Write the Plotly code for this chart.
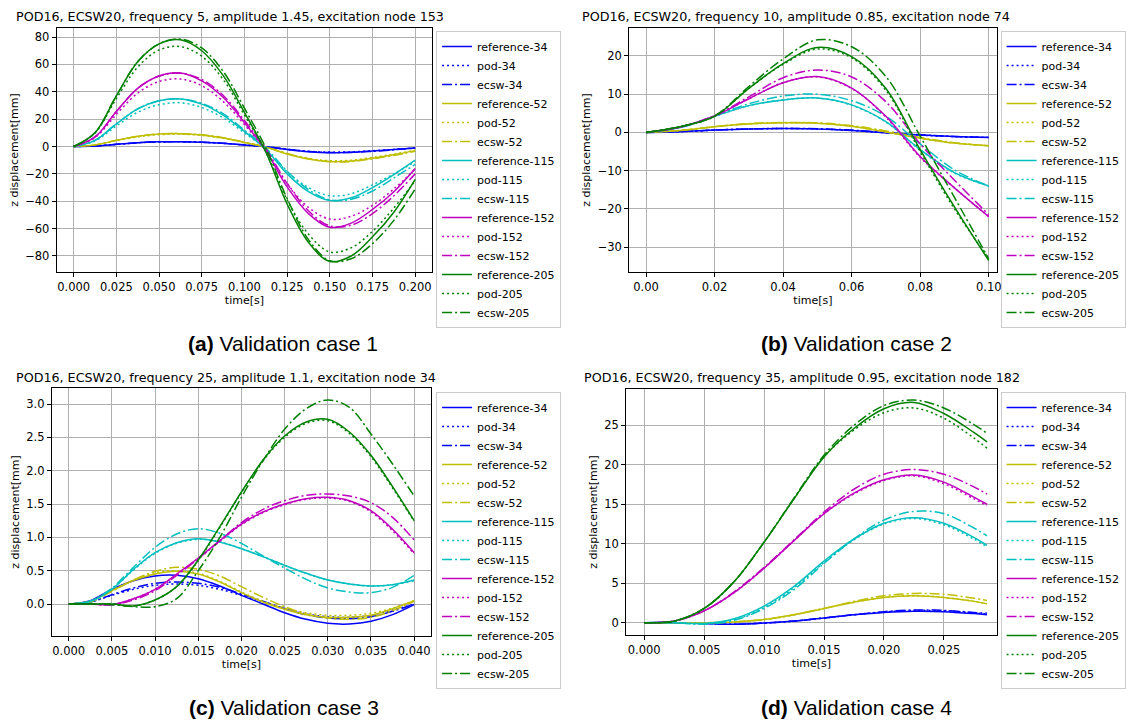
import plotly.graph_objects as go

# ---------------------------------------------------------------- data
nodes = [34, 52, 115, 152, 205]
node_colors = ["#0000ff", "#bfbf00", "#00bfbf", "#bf00bf", "#008000"]

titles = [
    "POD16, ECSW20, frequency 5, amplitude 1.45, excitation node 153",
    "POD16, ECSW20, frequency 10, amplitude 0.85, excitation node 74",
    "POD16, ECSW20, frequency 25, amplitude 1.1, excitation node 34",
    "POD16, ECSW20, frequency 35, amplitude 0.95, excitation node 182",
]
captions = ["<b>(a)</b> Validation case 1", "<b>(b)</b> Validation case 2",
            "<b>(c)</b> Validation case 3", "<b>(d)</b> Validation case 4"]

# case 1: frequency 5
t1 = [0, .0125, .025, .0375, .05, .0625, .075, .0875, .1, .1125, .125, .1375, .15, .1625, .175, .1875, .2]
case1_reference = {
    34: [0, 0.4, 1.6, 2.8, 3.4, 3.5, 3.2, 2.4, 1.1, -0.2, -2.2, -3.8, -4.5, -4.2, -3.3, -2.2, -1.1],
    52: [0, 1.2, 4.5, 7.5, 9.1, 9.4, 8.5, 6.3, 3.0, -0.5, -5.5, -9.2, -11, -10.5, -8.5, -6, -3],
    115: [0, 4.5, 16.5, 27.5, 33.5, 34.8, 31, 23, 11, -2, -20, -33, -39.5, -37.5, -30, -20.5, -10],
    152: [0, 7, 25.5, 42.5, 51.5, 53.7, 48, 36, 17.5, -3, -29.5, -49, -59, -56, -46, -33, -16],
    205: [0, 10, 37, 62, 75, 78, 70, 52, 25, -4, -42, -70, -84, -80, -66, -48, -24],
}
case1_pod = {
    34: [0, 0.4, 1.5, 2.7, 3.3, 3.4, 3.1, 2.3, 1.1, -0.2, -2.0, -3.5, -4.1, -3.9, -3.1, -2.1, -1.0],
    52: [0, 1.1, 4.2, 7, 8.6, 9, 8.1, 6, 2.9, -0.5, -5.2, -8.7, -10.4, -10, -8, -5.5, -2.7],
    115: [0, 4, 15, 25, 30.5, 32, 28.5, 21, 10, -2, -18.5, -30, -36, -34.5, -28, -20, -11],
    152: [0, 6.5, 23.5, 39, 47.5, 49.3, 44.5, 33, 16, -3, -27, -44.5, -53, -51, -43, -31, -16.5],
    205: [0, 10, 35, 58, 70.5, 73, 66, 49, 23, -4, -39, -64, -77, -74, -62, -45, -25],
}
case1_ecsw = {
    34: [0, 0.4, 1.6, 2.8, 3.4, 3.5, 3.2, 2.4, 1.2, -0.1, -2.0, -3.6, -4.4, -4.3, -3.5, -2.4, -1.2],
    52: [0, 1.2, 4.5, 7.5, 9.1, 9.4, 8.6, 6.5, 3.2, -0.3, -5, -9, -11.2, -11, -9, -6.5, -3.5],
    115: [0, 4.5, 16.5, 27.5, 33.5, 34.8, 31.5, 24, 12, -1, -18, -31.5, -39, -38.5, -32.5, -23, -13],
    152: [0, 7, 25.5, 42.5, 51.5, 53.5, 49, 37.5, 19, -1.5, -27, -47, -58, -57.5, -49, -36, -20],
    205: [0, 10, 37, 62, 75, 78.5, 72, 55, 28, -1, -38, -68, -83.5, -82, -71, -54, -31],
}

# case 2: frequency 10
t2 = [0, .01, .02, .03, .04, .05, .06, .07, .08, .09, .1]
case2_reference = {
    34: [0, 0.2, 0.6, 0.9, 1.0, 0.9, 0.5, -0.1, -0.7, -1.1, -1.3],
    52: [0, 0.5, 1.5, 2.2, 2.5, 2.4, 1.6, 0.1, -1.5, -2.8, -3.5],
    115: [0, 1.3, 4.2, 7, 8.5, 9, 7.2, 2.8, -4.5, -10.5, -14],
    152: [0, 1.4, 4.3, 8.8, 13, 14.6, 11.6, 4.2, -6.3, -14.5, -22],
    205: [0, 1.5, 4.2, 11.5, 18, 22.2, 19.8, 11.5, -4.5, -19.5, -33.5],
}
case2_pod = {
    34: [0, 0.2, 0.6, 0.9, 1.0, 0.9, 0.5, -0.1, -0.7, -1.1, -1.3],
    52: [0, 0.5, 1.5, 2.2, 2.5, 2.4, 1.6, 0.1, -1.5, -2.8, -3.5],
    115: [0, 1.3, 4.2, 7, 8.5, 9, 7.1, 2.7, -4.6, -10.6, -14],
    152: [0, 1.4, 4.3, 8.8, 13, 14.5, 11.5, 4, -6.5, -14.5, -22],
    205: [0, 1.5, 4.2, 11.5, 17.8, 21.8, 19.5, 11, -5, -20, -33],
}
case2_ecsw = {
    34: [0, 0.2, 0.6, 0.9, 1.05, 0.95, 0.6, 0.0, -0.6, -1.1, -1.3],
    52: [0, 0.5, 1.5, 2.3, 2.6, 2.5, 1.8, 0.4, -1.3, -2.7, -3.5],
    115: [0, 1.3, 4.3, 7.5, 9.5, 10, 8.3, 4.2, -3, -9.8, -14],
    152: [0, 1.4, 4.4, 9.3, 14.3, 16.3, 14.5, 8, -3, -12.5, -21.5],
    205: [0, 1.5, 4.3, 12, 19.2, 24.2, 22.4, 14.6, -1, -17, -33],
}

# case 3: frequency 25
t3 = [0, .0025, .005, .0075, .01, .0125, .015, .0175, .02, .0225, .025, .0275, .03, .0325, .035, .0375, .04]
case3_reference = {
    34: [0, 0.05, 0.22, 0.35, 0.42, 0.43, 0.38, 0.27, 0.13, 0.0, -0.13, -0.23, -0.29, -0.3, -0.26, -0.16, -0.01],
    52: [0, 0.04, 0.2, 0.35, 0.45, 0.49, 0.45, 0.33, 0.17, 0.03, -0.08, -0.16, -0.2, -0.2, -0.17, -0.07, 0.05],
    115: [0, 0.04, 0.22, 0.52, 0.77, 0.92, 0.98, 0.93, 0.83, 0.71, 0.58, 0.46, 0.36, 0.3, 0.27, 0.29, 0.36],
    152: [0, 0.0, -0.01, 0.08, 0.22, 0.45, 0.69, 0.95, 1.2, 1.38, 1.5, 1.58, 1.6, 1.55, 1.4, 1.12, 0.77],
    205: [0, 0.0, 0.0, -0.03, 0.06, 0.26, 0.66, 1.16, 1.68, 2.16, 2.52, 2.73, 2.77, 2.58, 2.23, 1.76, 1.25],
}
case3_pod = {
    34: [0, 0.03, 0.13, 0.22, 0.28, 0.3, 0.28, 0.22, 0.13, 0.03, -0.07, -0.15, -0.19, -0.2, -0.17, -0.09, 0.0],
    52: [0, 0.04, 0.2, 0.36, 0.47, 0.5, 0.46, 0.34, 0.18, 0.04, -0.06, -0.13, -0.17, -0.17, -0.14, -0.06, 0.05],
    115: [0, 0.04, 0.22, 0.51, 0.76, 0.91, 0.97, 0.93, 0.83, 0.71, 0.58, 0.46, 0.36, 0.3, 0.27, 0.29, 0.35],
    152: [0, 0.0, -0.01, 0.08, 0.22, 0.44, 0.68, 0.94, 1.19, 1.37, 1.49, 1.57, 1.59, 1.54, 1.38, 1.1, 0.75],
    205: [0, 0.0, 0.0, -0.03, 0.06, 0.26, 0.65, 1.15, 1.67, 2.15, 2.5, 2.71, 2.75, 2.56, 2.21, 1.74, 1.24],
}
case3_ecsw = {
    34: [0, 0.03, 0.14, 0.24, 0.31, 0.33, 0.31, 0.25, 0.15, 0.04, -0.07, -0.16, -0.21, -0.22, -0.19, -0.11, 0.0],
    52: [0, 0.03, 0.19, 0.36, 0.49, 0.55, 0.52, 0.42, 0.26, 0.1, -0.04, -0.15, -0.21, -0.23, -0.2, -0.1, 0.04],
    115: [0, 0.04, 0.24, 0.55, 0.85, 1.05, 1.13, 1.06, 0.91, 0.72, 0.54, 0.37, 0.24, 0.18, 0.17, 0.25, 0.43],
    152: [0, 0.0, -0.01, 0.06, 0.2, 0.43, 0.68, 0.95, 1.22, 1.42, 1.55, 1.63, 1.65, 1.62, 1.52, 1.3, 0.96],
    205: [0, 0.0, -0.01, -0.04, -0.04, 0.08, 0.5, 1.0, 1.6, 2.15, 2.62, 2.93, 3.06, 2.95, 2.55, 2.1, 1.62],
}

# case 4: frequency 35
t4 = [0, .0025, .005, .0075, .01, .0125, .015, .0175, .02, .0225, .025, .0275, .0286]
case4_reference = {
    34: [0, 0, -0.1, -0.2, -0.05, 0.2, 0.6, 1.0, 1.3, 1.45, 1.4, 1.15, 1.0],
    52: [0, 0, 0, 0.1, 0.4, 1.0, 1.8, 2.6, 3.2, 3.4, 3.2, 2.7, 2.4],
    115: [0, 0, -0.1, 0.5, 2.1, 4.6, 7.8, 10.6, 12.6, 13.3, 12.6, 10.8, 9.8],
    152: [0, 0.2, 1.5, 3.8, 6.9, 10.4, 13.8, 16.4, 18.1, 18.7, 17.8, 15.9, 15],
    205: [0, 0.2, 1.8, 5.2, 10.2, 15.7, 21, 24.6, 27.1, 27.9, 26.5, 24.1, 22.9],
}
case4_pod = {
    34: [0, 0, -0.1, -0.2, -0.05, 0.2, 0.6, 1.0, 1.35, 1.55, 1.5, 1.25, 1.1],
    52: [0, 0, 0, 0.1, 0.4, 1.0, 1.8, 2.6, 3.2, 3.4, 3.2, 2.7, 2.4],
    115: [0, 0, -0.1, 0.4, 1.9, 4.4, 7.6, 10.5, 12.5, 13.2, 12.4, 10.6, 9.6],
    152: [0, 0.2, 1.5, 3.8, 6.9, 10.4, 13.8, 16.3, 18.0, 18.6, 17.6, 15.7, 14.8],
    205: [0, 0.2, 1.8, 5.2, 10.2, 15.7, 21, 24.4, 26.6, 27.2, 25.9, 23.4, 22.1],
}
case4_ecsw = {
    34: [0, 0, -0.1, -0.2, -0.05, 0.2, 0.6, 1.0, 1.4, 1.6, 1.55, 1.3, 1.2],
    52: [0, 0, 0, 0.1, 0.4, 1.0, 1.8, 2.7, 3.4, 3.7, 3.6, 3.1, 2.8],
    115: [0, 0, -0.2, 0.3, 1.8, 4.2, 7.5, 10.6, 13, 14.1, 13.8, 12, 11],
    152: [0, 0.2, 1.5, 3.9, 7, 10.5, 14, 16.9, 18.8, 19.4, 18.8, 17.2, 16.3],
    205: [0, 0.2, 1.8, 5.2, 10.2, 15.8, 21.2, 25, 27.5, 28.2, 27.2, 25.1, 24],
}

cases = [
    (t1, case1_reference, case1_pod, case1_ecsw),
    (t2, case2_reference, case2_pod, case2_ecsw),
    (t3, case3_reference, case3_pod, case3_ecsw),
    (t4, case4_reference, case4_pod, case4_ecsw),
]

# ---------------------------------------------------------------- layout (pixel geometry of a 1136x720 canvas)
W, H = 1136, 720
axes_px = [  # left, right, top, bottom
    (57, 434, 28, 272),
    (632, 1001, 28, 272),
    (52, 433, 388, 636),
    (629, 1001, 389, 635),
]
x_ranges = [(-0.0099, 0.2099), (-0.0049, 0.1023), (-0.00196, 0.04196), (-0.0015, 0.0294)]
y_ranges = [(-91.7, 86.6), (-36.5, 27.3), (-0.48, 3.24), (-1.56, 29.6)]
x_ticks = [
    ([0, .025, .05, .075, .1, .125, .15, .175, .2], ".3f"),
    ([0, .02, .04, .06, .08, .1], ".2f"),
    ([0, .005, .01, .015, .02, .025, .03, .035, .04], ".3f"),
    ([0, .005, .01, .015, .02, .025], ".3f"),
]
y_ticks = [
    ([-80, -60, -40, -20, 0, 20, 40, 60, 80], "d"),
    ([-30, -20, -10, 0, 10, 20], "d"),
    ([0, .5, 1, 1.5, 2, 2.5, 3], ".1f"),
    ([0, 5, 10, 15, 20, 25], "d"),
]
legend_pos = [(438, 31), (1005, 31), (438, 392), (1005, 392)]
title_pos = [(231, 16), (800, 16), (227, 377), (806, 377)]
caption_pos = [(284, 343), (860, 343), (285, 707), (860, 707)]

styles = [("reference", "solid"), ("pod", "2px,3px"), ("ecsw", "10px,3px,2px,3px")]
FONT = "DejaVu Sans"

fig = go.Figure()
layout = dict(
    width=W, height=H, margin=dict(l=0, r=0, t=0, b=0),
    paper_bgcolor="white", plot_bgcolor="white",
    font=dict(family=FONT, size=11, color="black"),
    annotations=[],
)

for i, (t, ref, pod, ecsw) in enumerate(cases):
    k = "" if i == 0 else str(i + 1)
    leg = "legend" + k
    series = {"reference": ref, "pod": pod, "ecsw": ecsw}
    for node, color in zip(nodes, node_colors):
        for method, dash in styles:
            fig.add_trace(go.Scatter(
                x=t, y=series[method][node], mode="lines",
                name=f"{method}-{node}",
                line=dict(color=color, width=1.5, dash=dash, shape="spline", smoothing=1.0),
                xaxis="x" + k, yaxis="y" + k, legend=leg,
            ))

    l, r, tp, bt = axes_px[i]
    common = dict(
        showline=True, mirror=True, linecolor="black", linewidth=1,
        ticks="outside", ticklen=4, tickwidth=1, tickcolor="black",
        showgrid=True, gridcolor="#b0b0b0", gridwidth=1, zeroline=False,
        tickfont=dict(family=FONT, size=11.5, color="black"),
    )
    layout["xaxis" + k] = dict(
        domain=[l / W, r / W], anchor="y" + k, range=list(x_ranges[i]),
        tickvals=x_ticks[i][0], tickformat=x_ticks[i][1],
        title=dict(text="time[s]", font=dict(family=FONT, size=11), standoff=3),
        **common,
    )
    layout["yaxis" + k] = dict(
        domain=[1 - bt / H, 1 - tp / H], anchor="x" + k, range=list(y_ranges[i]),
        tickvals=y_ticks[i][0], tickformat=y_ticks[i][1],
        title=dict(text="z displacement[mm]", font=dict(family=FONT, size=11), standoff=4),
        **common,
    )
    lx, ly = legend_pos[i]
    layout[leg] = dict(
        x=lx / W, y=1 - ly / H, xanchor="left", yanchor="top",
        bgcolor="white", bordercolor="#cccccc", borderwidth=1,
        font=dict(family=FONT, size=11, color="black"),
        tracegroupgap=0, itemwidth=30,
    )
    tx, ty = title_pos[i]
    layout["annotations"].append(dict(
        text=titles[i], x=tx / W, y=1 - ty / H, xref="paper", yref="paper",
        xanchor="center", yanchor="middle", showarrow=False,
        font=dict(family=FONT, size=12.7, color="black"),
    ))
    cx, cy = caption_pos[i]
    layout["annotations"].append(dict(
        text=captions[i], x=cx / W, y=1 - cy / H, xref="paper", yref="paper",
        xanchor="center", yanchor="middle", showarrow=False,
        font=dict(family="Liberation Sans", size=21, color="black"),
    ))

fig.update_layout(**layout)
fig.write_html("out.html", config={"displayModeBar": False})
